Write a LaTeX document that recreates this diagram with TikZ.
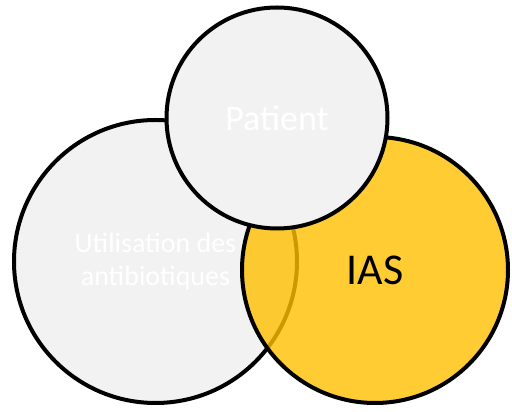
\documentclass[tikz,border=0pt]{standalone}
\usepackage{fontspec}
\setmainfont{Carlito}
\usepackage{xcolor}
\usepackage{tikz}
\definecolor{vgrey}{HTML}{F2F2F2}
\definecolor{vyellow}{HTML}{FFC000}

\begin{document}
\begin{tikzpicture}[x=1pt, y=1pt,
  venn/.style={circle, draw=black, line width=4pt, inner sep=0pt, align=center}]
\useasboundingbox (0,0) rectangle (512,412);
% Sets
\node[venn, fill=vgrey, minimum size=283pt, text=white,
  font=\fontsize{28}{33}\selectfont] (abx) at (155.5,150.5)
  {Utilisation des\\antibiotiques};
\node[venn, fill=vyellow, fill opacity=0.8, text opacity=1, minimum size=266pt,
  font=\fontsize{44}{50}\selectfont] (ias) at (375,142) {IAS};
\node[venn, fill=vgrey, minimum size=221pt, text=white,
  font=\fontsize{36}{43}\selectfont] (pat) at (277,294) {Patient};
\end{tikzpicture}
\end{document}
